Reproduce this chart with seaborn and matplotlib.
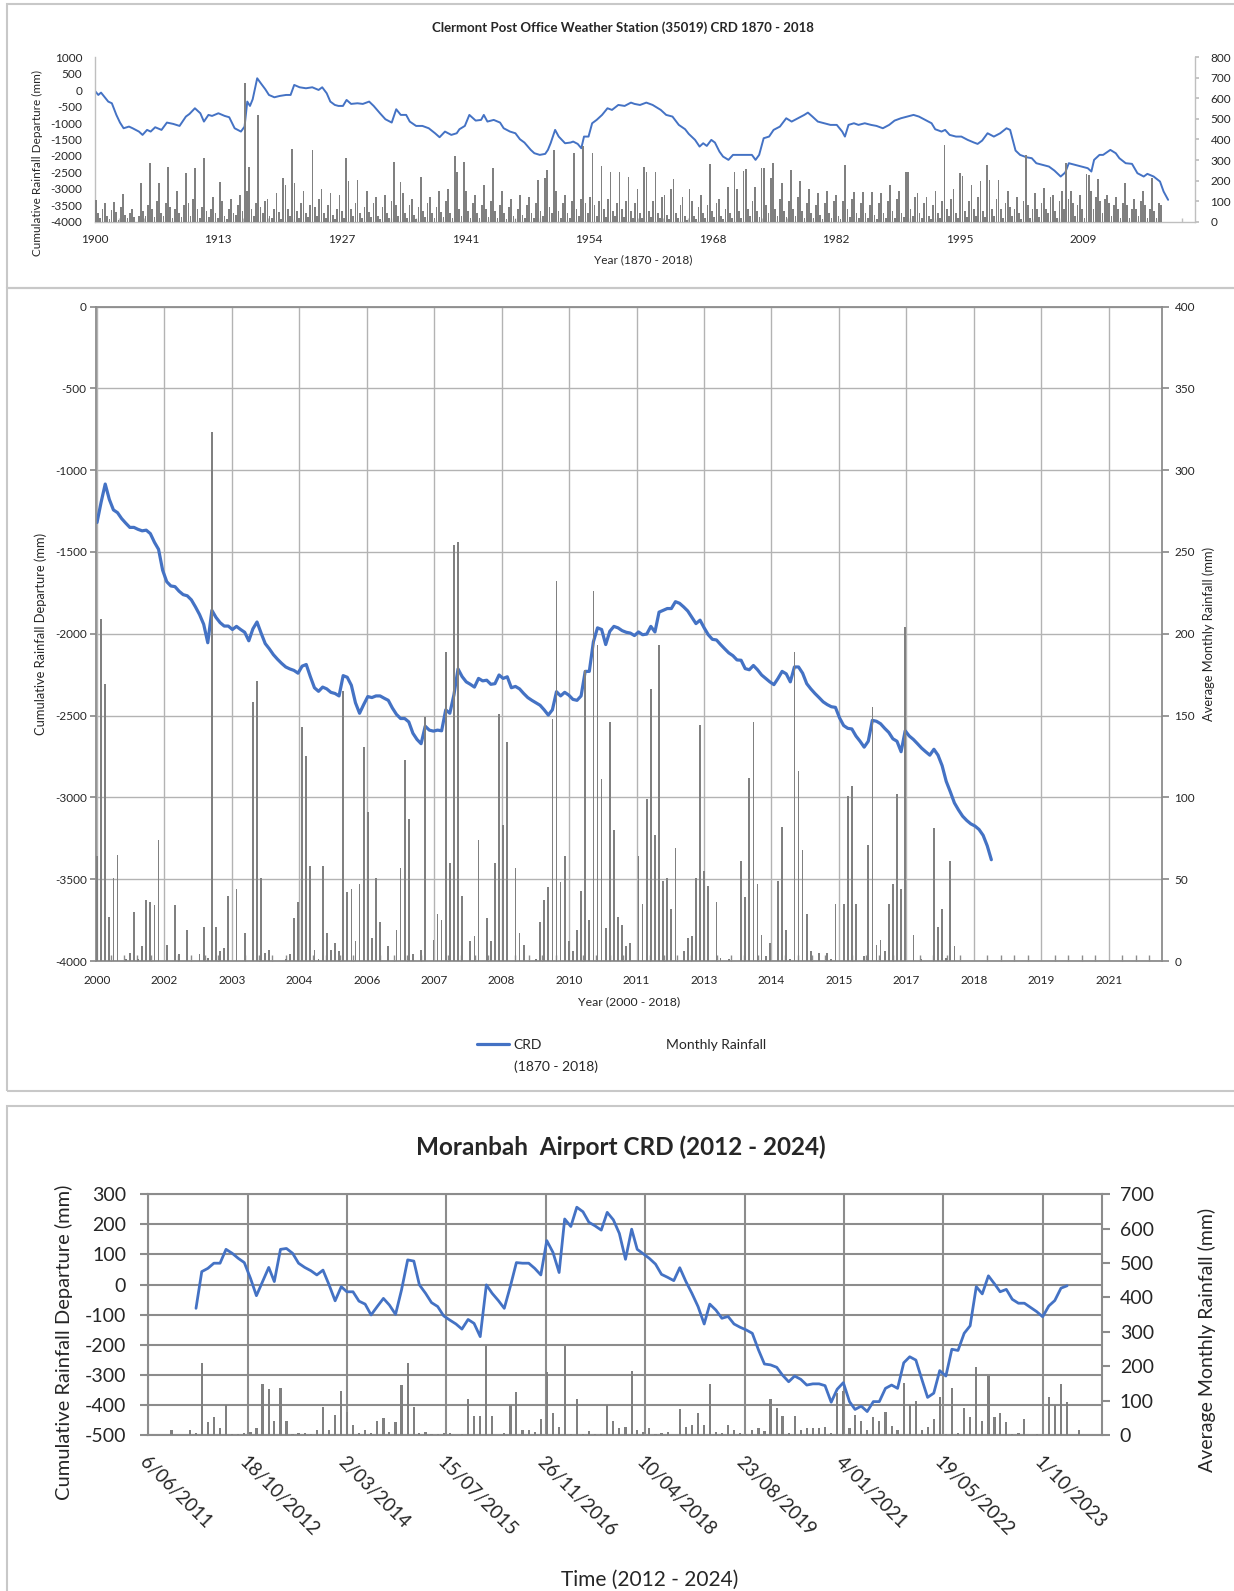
import numpy as np
import pandas as pd
import matplotlib
matplotlib.use('Agg')
import matplotlib.pyplot as plt
from matplotlib.lines import Line2D
from matplotlib.patches import Patch, Rectangle
from matplotlib.ticker import FixedLocator
import seaborn as sns

sns.set_theme(style='white')
plt.rcParams['font.family'] = ['Lato', 'DejaVu Sans']
plt.rcParams['axes.unicode_minus'] = False

BLUE = '#4472C4'
GREY = '#808080'
TXT = '#262626'

# -------------------------------
# Clermont 1900 - 2018 (top chart)
# -------------------------------
top_years = [
    1900.0, 1900.4, 1900.7, 1901.2, 1901.5, 1901.9, 1902.4, 1902.8, 1903.2, 1903.8,
    1904.2, 1904.9, 1905.3, 1905.8, 1906.2, 1906.7, 1907.4, 1908.0, 1908.7, 1909.4,
    1910.1, 1910.5, 1911.1, 1911.7, 1912.1, 1912.6, 1913.0, 1913.7, 1914.4, 1914.9,
    1915.5, 1916.2, 1916.6, 1916.9, 1917.2, 1917.5, 1918.0, 1918.4, 1918.9, 1919.3,
    1919.9, 1920.5, 1921.2, 1921.7, 1922.1, 1922.7, 1923.4, 1924.1, 1924.8, 1925.2,
    1925.7, 1926.1, 1926.6, 1927.0, 1927.5, 1927.9, 1928.4, 1929.1, 1929.7, 1930.4,
    1930.9, 1931.6, 1932.2, 1932.9, 1933.4, 1933.9, 1934.5, 1934.9, 1935.6, 1936.3,
    1937.0, 1937.7, 1938.2, 1938.8, 1939.5, 1940.1, 1940.4, 1941.0, 1941.5, 1942.2,
    1942.8, 1943.1, 1943.5, 1944.2, 1944.9, 1945.3, 1946.0, 1946.6, 1947.1, 1947.6,
    1948.3, 1948.7, 1949.3, 1949.9, 1950.2, 1950.5, 1951.0, 1951.4, 1952.1, 1952.7,
    1953.0, 1953.5, 1953.9, 1954.2, 1954.7, 1955.1, 1955.6, 1956.2, 1956.8, 1957.3,
    1958.0, 1958.7, 1959.4, 1959.8, 1960.4, 1961.1, 1961.8, 1962.7, 1963.3, 1964.0,
    1964.7, 1965.4, 1965.8, 1966.5, 1967.0, 1967.4, 1967.8, 1968.3, 1968.7, 1969.2,
    1969.6, 1970.2, 1970.7, 1971.4, 1972.1, 1972.8, 1973.2, 1973.6, 1974.1, 1974.7,
    1975.2, 1975.9, 1976.6, 1977.2, 1977.9, 1978.6, 1979.0, 1979.5, 1980.1, 1980.8,
    1981.5, 1982.2, 1982.8, 1983.1, 1983.5, 1984.1, 1984.6, 1985.3, 1986.0, 1986.6,
    1987.3, 1988.0, 1988.6, 1989.3, 1990.0, 1990.7, 1991.3, 1992.0, 1992.7, 1993.1,
    1993.8, 1994.2, 1994.7, 1995.4, 1996.0, 1996.7, 1997.4, 1997.8, 1998.3, 1998.9,
    1999.6, 2000.3, 2001.0, 2001.4, 2002.0, 2002.5, 2003.2, 2003.8, 2004.3, 2005.0,
    2005.7, 2006.3, 2007.0, 2007.5, 2007.9, 2008.6, 2009.3, 2010.0, 2010.4, 2010.7,
    2011.3, 2011.7, 2012.5, 2013.1, 2013.5, 2014.2, 2014.9, 2015.5, 2016.2, 2016.6,
    2017.3, 2018.0, 2018.4, 2018.9,
]
top_crd = [
    -13, -145, -74, -246, -347, -398, -752, -985, -1158, -1107,
    -1158, -1259, -1360, -1208, -1259, -1127, -1208, -985, -1026, -1087,
    -803, -722, -550, -702, -955, -752, -783, -702, -783, -823,
    -1158, -1259, -1107, -347, -479, -276, 362, 210, 27, -145,
    -216, -175, -145, -145, 159, 88, 58, 88, 7, 88,
    -94, -347, -449, -479, -479, -297, -418, -398, -418, -347,
    -479, -702, -884, -985, -580, -752, -752, -955, -1087, -1087,
    -1158, -1310, -1431, -1259, -1360, -1310, -1188, -1087, -752, -925,
    -904, -752, -955, -904, -985, -1158, -1259, -1310, -1492, -1593,
    -1816, -1917, -1968, -1937, -1816, -1614, -1208, -1411, -1614, -1593,
    -1563, -1634, -1766, -1411, -1411, -1006, -904, -752, -550, -600,
    -449, -479, -378, -418, -450, -378, -449, -600, -752, -803,
    -1056, -1188, -1330, -1512, -1715, -1614, -1695, -1512, -1593, -1867,
    -2019, -2120, -1968, -1968, -1968, -1968, -2120, -1968, -1462, -1411,
    -1208, -1107, -854, -955, -854, -752, -682, -803, -955, -1006,
    -1056, -1056, -1259, -1411, -1056, -1006, -1056, -1006, -1056, -1087,
    -1158, -1056, -925, -854, -803, -752, -803, -904, -1006, -1188,
    -1259, -1208, -1360, -1411, -1411, -1512, -1593, -1634, -1533, -1310,
    -1411, -1310, -1158, -1208, -1836, -1968, -2039, -2069, -2221, -2272,
    -2323, -2444, -2626, -2505, -2221, -2272, -2323, -2373, -2474, -2120,
    -1968, -1968, -1816, -1917, -2069, -2221, -2241, -2525, -2626, -2545,
    -2626, -2778, -3082, -3335,
]
# rainfall, four values per year (Jan-Mar, Apr-Jun, Jul-Sep, Oct-Dec) from 1900
top_rain = [
    105, 40, 20, 60,   90, 30, 15, 55,   94, 45, 10, 70,   133, 35, 20, 40,
    60, 25, 0, 30,     187, 50, 30, 80,  284, 60, 25, 100, 187, 40, 30, 90,
    268, 70, 20, 60,   150, 40, 25, 80,  235, 90, 30, 110, 260, 60, 20, 70,
    308, 50, 25, 60,   120, 40, 20, 195, 100, 30, 15, 60,  110, 40, 35, 80,
    130, 50, 677, 150, 268, 60, 30, 90,  519, 70, 40, 100, 110, 30, 20, 60,
    140, 45, 15, 211,  180, 60, 30, 352, 187, 50, 20, 90,  150, 40, 25, 80,
    349, 70, 30, 110,  160, 40, 20, 80,  140, 35, 15, 60,  130, 50, 20, 308,
    200, 60, 30, 90,   203, 40, 20, 70,  150, 45, 25, 90,  120, 30, 15, 70,
    130, 40, 20, 100,  292, 80, 30, 195, 140, 40, 20, 80,  110, 35, 15, 70,
    219, 50, 25, 90,   120, 40, 20, 70,  150, 45, 25, 100, 160, 40, 20, 321,
    244, 60, 30, 292,  150, 50, 20, 90,  130, 40, 20, 80,  180, 60, 25, 100,
    260, 50, 20, 80,   150, 40, 15, 70,  110, 30, 15, 60,  130, 35, 20, 80,
    120, 40, 20, 90,   203, 50, 30, 211, 252, 70, 40, 349, 150, 50, 20, 90,
    130, 40, 20, 100,  333, 60, 30, 110, 370, 90, 40, 120, 333, 80, 30, 100,
    271, 60, 25, 110,  244, 50, 30, 90,  244, 60, 25, 100, 219, 50, 20, 90,
    160, 40, 20, 268,  244, 50, 25, 100, 244, 40, 20, 120, 130, 35, 15, 160,
    206, 40, 20, 80,   120, 30, 10, 160, 100, 30, 15, 70,  130, 40, 20, 80,
    281, 50, 25, 90,   110, 30, 15, 60,  170, 40, 20, 244, 160, 50, 20, 247,
    255, 60, 30, 100,  170, 50, 25, 263, 263, 80, 40, 214, 284, 60, 30, 110,
    190, 50, 25, 100,  252, 60, 30, 120, 200, 50, 20, 90,  160, 40, 20, 80,
    140, 35, 15, 90,   150, 40, 20, 100, 130, 30, 15, 100, 276, 60, 25, 110,
    145, 40, 20, 90,   145, 40, 20, 80,  145, 35, 15, 90,  140, 40, 20, 100,
    180, 50, 20, 110,  150, 40, 25, 244, 244, 60, 30, 120, 140, 40, 20, 90,
    120, 30, 15, 80,   150, 40, 20, 100, 373, 60, 30, 110, 160, 40, 20, 235,
    222, 50, 25, 100,  180, 60, 30, 120, 200, 50, 25, 276, 203, 60, 30, 110,
    203, 60, 20, 90,   150, 70, 30, 60,  120, 40, 15, 100, 325, 80, 20, 60,
    140, 60, 25, 90,   165, 60, 40, 120, 130, 50, 20, 100, 150, 60, 284, 110,
    150, 90, 30, 80,   130, 60, 20, 232, 227, 150, 60, 120, 206, 100, 40, 110,
    130, 90, 30, 80,   120, 60, 20, 90,  190, 80, 20, 60,  110, 60, 30, 100,
    150, 80, 20, 60,   211, 50, 20, 90,  81, 0,
]
top_tick_labels = ['1900', '1913', '1927', '1941', '1954', '1968', '1982', '1995', '2009']

# -------------------------------
# Clermont 2000 - 2018 (middle chart), monthly
# -------------------------------
mid_crd = [
    -1320, -1196, -1085, -1179, -1243, -1260, -1296, -1324, -1350, -1350,
    -1362, -1371, -1367, -1388, -1441, -1484, -1612, -1682, -1708, -1712,
    -1740, -1761, -1768, -1793, -1836, -1883, -1942, -2055, -1857, -1900,
    -1932, -1953, -1953, -1974, -1955, -1974, -1991, -2043, -1970, -1928,
    -1996, -2060, -2092, -2128, -2156, -2181, -2203, -2215, -2224, -2241,
    -2198, -2188, -2262, -2330, -2352, -2326, -2337, -2358, -2365, -2380,
    -2256, -2266, -2315, -2422, -2486, -2433, -2384, -2390, -2380, -2380,
    -2394, -2407, -2454, -2493, -2518, -2518, -2539, -2608, -2646, -2672,
    -2565, -2589, -2595, -2589, -2593, -2465, -2486, -2373, -2215, -2262,
    -2294, -2309, -2326, -2273, -2288, -2284, -2309, -2305, -2252, -2273,
    -2263, -2330, -2322, -2337, -2365, -2390, -2407, -2422, -2437, -2465,
    -2497, -2465, -2354, -2380, -2358, -2375, -2401, -2407, -2380, -2230,
    -2230, -2049, -1964, -1974, -2066, -1985, -1955, -1964, -1981, -1991,
    -1996, -2011, -1989, -2006, -2002, -1955, -1989, -1868, -1857, -1846,
    -1846, -1804, -1814, -1836, -1861, -1900, -1938, -1917, -1964, -2006,
    -2034, -2038, -2066, -2092, -2117, -2134, -2160, -2162, -2213, -2220,
    -2194, -2220, -2252, -2273, -2294, -2311, -2273, -2230, -2245, -2294,
    -2203, -2203, -2241, -2305, -2337, -2365, -2390, -2416, -2433, -2446,
    -2450, -2514, -2561, -2578, -2582, -2625, -2657, -2693, -2657, -2529,
    -2535, -2550, -2578, -2603, -2642, -2657, -2721, -2593, -2625, -2646,
    -2672, -2699, -2721, -2742, -2706, -2742, -2806, -2902, -2966, -3034,
    -3077, -3115, -3141, -3162, -3175, -3196, -3232, -3296, -3381,
]
mid_rain = [
    64, 209, 169, 27, 51, 65, 0, 1, 5, 30, 1, 9,
    37, 36, 34, 74, 0, 10, 0, 34, 4, 0, 19, 0,
    0, 4, 21, 2, 323, 21, 6, 8, 40, 0, 44, 0,
    17, 0, 158, 171, 51, 5, 7, 0, 0, 0, 1, 4,
    26, 36, 143, 125, 58, 7, 1, 58, 17, 7, 11, 6,
    165, 42, 44, 12, 47, 131, 91, 14, 51, 24, 0, 9,
    0, 19, 57, 123, 87, 4, 0, 7, 149, 0, 13, 29,
    25, 189, 60, 254, 256, 40, 0, 12, 15, 74, 0, 26,
    12, 60, 151, 83, 134, 0, 57, 17, 10, 0, 0, 1,
    24, 37, 45, 148, 232, 48, 64, 12, 6, 19, 43, 178,
    25, 226, 193, 111, 20, 146, 80, 27, 22, 9, 11, 0,
    64, 35, 99, 166, 77, 193, 49, 51, 32, 69, 0, 6,
    14, 15, 51, 144, 55, 46, 0, 36, 2, 0, 1, 0,
    0, 61, 39, 112, 146, 47, 16, 3, 11, 0, 49, 82,
    19, 1, 189, 116, 68, 29, 6, 0, 5, 0, 5, 1,
    35, 0, 35, 101, 107, 35, 0, 3, 71, 155, 10, 13,
    6, 35, 47, 102, 44, 204, 0, 16, 0, 1, 0, 0,
    81, 21, 32, 2, 61, 9, 0, 0,
]
mid_tick_labels = ['2000', '2002', '2003', '2004', '2006', '2007', '2008', '2010',
                   '2011', '2013', '2014', '2015', '2017', '2018', '2019', '2021']

# -------------------------------
# Moranbah Airport (bottom chart), monthly
# -------------------------------
mor_crd_start = '2012-02-01'
mor_crd = [
    -79, 43, 54, 71, 71, 117, 104, 87, 73, 21,
    -37, 10, 57, 10, 117, 120, 104, 71, 57, 46,
    32, 48, 0, -54, -7, -24, -24, -55, -65, -101,
    -73, -46, -68, -99, -18, 82, 78, -1, -29, -60,
    -73, -104, -118, -131, -148, -116, -129, -173, -1, -29,
    -53, -79, -5, 73, 71, 71, 54, 32, 146, 107,
    40, 218, 193, 257, 242, 207, 195, 181, 240, 215,
    170, 84, 184, 117, 102, 87, 68, 34, 24, 13,
    56, 10, -29, -73, -131, -65, -85, -112, -106, -131,
    -142, -151, -162, -217, -264, -267, -275, -301, -323, -304,
    -315, -334, -330, -330, -336, -391, -348, -326, -389, -415,
    -404, -422, -389, -389, -345, -334, -345, -260, -240, -251,
    -317, -375, -361, -286, -304, -215, -219, -162, -137, -7,
    -31, 29, 2, -24, -16, -49, -62, -62, -76, -90,
    -107, -71, -53, -12, -4,
]
mor_rain_start = '2011-09-01'
mor_rain = [
    0, 15, 0, 0,
    15, 7, 208, 37, 51, 19, 86, 3, 3, 7, 10, 19,
    148, 134, 42, 138, 42, 3, 7, 5, 3, 15, 80, 15,
    58, 129, 66, 29, 7, 15, 5, 42, 48, 10, 37, 145,
    208, 80, 7, 10, 3, 3, 7, 7, 0, 3, 105, 55,
    55, 260, 55, 0, 7, 87, 126, 15, 15, 10, 46, 182,
    63, 22, 260, 3, 104, 3, 13, 3, 3, 87, 42, 19,
    22, 187, 15, 10, 19, 3, 5, 10, 0, 75, 22, 29,
    63, 29, 148, 10, 7, 29, 15, 7, 3, 15, 19, 13,
    104, 78, 55, 5, 55, 15, 19, 19, 19, 22, 5, 121,
    129, 19, 58, 42, 15, 51, 42, 66, 26, 15, 152, 87,
    100, 15, 22, 46, 111, 3, 138, 7, 78, 51, 197, 42,
    173, 51, 63, 37, 3, 7, 46, 0, 3, 0, 111, 87,
    148, 97, 0, 15,
]
mor_tick_labels = ['6/06/2011', '18/10/2012', '2/03/2014', '15/07/2015', '26/11/2016',
                   '10/04/2018', '23/08/2019', '4/01/2021', '19/05/2022', '1/10/2023']

# -------------------------------
# Figure
# -------------------------------
W, H = 1234, 1591
fig = plt.figure(figsize=(W / 100, H / 100), dpi=100)


def px_axes(l, t, r, b):
    return fig.add_axes([l / W, 1 - b / H, (r - l) / W, (b - t) / H])


def style_spines(ax, show, color, lw):
    for name, sp in ax.spines.items():
        sp.set_visible(name in show)
        sp.set_color(color)
        sp.set_linewidth(lw)


# chart borders
for (t, b) in [(4, 288), (288, 1091), (1106, 1600)]:
    fig.add_artist(Rectangle((7 / W, 1 - b / H), (1240 - 7) / W, (b - t) / H,
                             transform=fig.transFigure, fill=False,
                             edgecolor='#c8c8c8', linewidth=1.5))

# ---------- top chart ----------
ax1 = px_axes(94.7, 57.3, 1195.2, 221.7)
ax1r = ax1.twinx()
sns.lineplot(x=top_years, y=top_crd, ax=ax1, color=BLUE, linewidth=1.4, estimator=None)
q_pos = 1900 + np.arange(len(top_rain)) * 0.25 + 0.125
ax1r.bar(q_pos, top_rain, width=0.19, color=GREY, linewidth=0)

step = 5000 / 365.25
ax1.set_xlim(1900, 2021.9)
ax1.set_xticks(1900 + step * np.arange(len(top_tick_labels)))
ax1.set_xticklabels(top_tick_labels)
ax1.xaxis.set_minor_locator(FixedLocator(1900 + step / 5 * np.arange(45)))
ax1.set_ylim(-4000, 1000)
ax1.set_yticks(range(-4000, 1001, 500))
ax1r.set_ylim(0, 800)
ax1r.set_yticks(range(0, 801, 100))
style_spines(ax1, ['left', 'bottom'], '#bfbfbf', 1.0)
style_spines(ax1r, ['right'], '#bfbfbf', 1.0)
ax1.tick_params(axis='y', length=0, pad=9, labelsize=8.5, labelcolor=TXT)
ax1.tick_params(axis='x', which='major', length=0, pad=9, labelsize=8.5, labelcolor=TXT)
ax1.tick_params(axis='x', which='minor', direction='in', length=3, color='#bfbfbf', bottom=True)
ax1r.tick_params(axis='y', length=3, color='#bfbfbf', pad=8, labelsize=8.5, labelcolor=TXT)
ax1.set_ylabel('Cumulative Rainfall Departure (mm)', fontsize=8.5, color=TXT)
ax1.yaxis.set_label_coords(-0.047, 0.36)
ax1.set_xlabel('Year (1870 - 2018)', fontsize=8.5, color=TXT)
ax1.xaxis.set_label_coords(0.498, -0.2)
fig.text(0.505, 1 - 27.4 / H, 'Clermont Post Office Weather Station (35019) CRD 1870 - 2018',
         ha='center', va='center', fontsize=9.5, fontweight='bold', color=TXT)

# ---------- middle chart ----------
ax2 = px_axes(96.4, 306.5, 1162, 961)
ax2r = ax2.twinx()
per_label = 16.44
ax2.set_xlim(-0.15, 259.6)
ax2.set_xticks(per_label * np.arange(len(mid_tick_labels)))
ax2.set_xticklabels(mid_tick_labels)
ax2.xaxis.set_minor_locator(FixedLocator(per_label / 5 * np.arange(79)))
ax2.set_ylim(-4000, 0)
ax2.set_yticks(range(-4000, 1, 500))
ax2r.set_ylim(0, 400)
ax2r.set_yticks(range(0, 401, 50))
ax2.grid(True, color='#b3b3b3', linewidth=1.0)
sns.lineplot(x=np.arange(len(mid_crd)), y=mid_crd, ax=ax2, color=BLUE, linewidth=2.3,
             estimator=None)
ax2r.bar(np.arange(len(mid_rain)), mid_rain, width=0.42, color=GREY, linewidth=0)
style_spines(ax2, ['left', 'bottom', 'top'], '#8c8c8c', 1.3)
style_spines(ax2r, ['right'], '#8c8c8c', 1.3)
ax2.tick_params(axis='y', length=4, color='#8c8c8c', pad=3, labelsize=8.5, labelcolor=TXT,
                left=True)
ax2.tick_params(axis='x', which='major', length=0, pad=10, labelsize=8.5, labelcolor=TXT)
ax2.tick_params(axis='x', which='minor', direction='in', length=4, color='#8c8c8c',
                bottom=True)
ax2r.tick_params(axis='y', length=5, color='#8c8c8c', pad=4, labelsize=8.5, labelcolor=TXT)
ax2.set_ylabel('Cumulative Rainfall Departure (mm)', fontsize=9.3, color=TXT)
ax2.yaxis.set_label_coords(-0.046, 0.5)
ax2r.set_ylabel('Average Monthly Rainfall (mm)', fontsize=9.3, color=TXT)
ax2r.yaxis.set_label_coords(1.038, 0.5)
ax2.set_xlabel('Year (2000 - 2018)', fontsize=8.8, color=TXT)
ax2.xaxis.set_label_coords(0.5, -0.054)

fs_leg = 10
fig.legend(handles=[Line2D([], [], color=BLUE, linewidth=2.3),
                    Patch(facecolor='none', edgecolor='none')],
           labels=['CRD', 'Monthly Rainfall'], ncol=2, frameon=False,
           loc='center left', bbox_to_anchor=(477 / W, 1 - 1045 / H),
           borderpad=0, borderaxespad=0, handlelength=2.3, handletextpad=0.3,
           columnspacing=6.4, prop={'size': fs_leg})
fig.text(513.5 / W, 1 - 1067 / H, '(1870 - 2018)', fontsize=fs_leg, color=TXT,
         ha='left', va='center')

# ---------- bottom chart ----------
ax3 = px_axes(148.3, 1194.3, 1101.7, 1435)
ax3r = ax3.twinx()
crd_dates = pd.date_range(mor_crd_start, periods=len(mor_crd), freq='MS')
rain_dates = pd.date_range(mor_rain_start, periods=len(mor_rain), freq='MS')
tick_dates = pd.to_datetime(mor_tick_labels, format='%d/%m/%Y')

ax3.grid(True, color='#8c8c8c', linewidth=1.5)
sns.lineplot(x=crd_dates, y=mor_crd, ax=ax3, color=BLUE, linewidth=2.0, estimator=None)
ax3r.bar(rain_dates, mor_rain, width=11, color=GREY, linewidth=0)
ax3.set_xlim(pd.Timestamp('2011-06-06'), pd.Timestamp('2024-07-24'))
ax3.set_xticks(tick_dates)
ax3.set_xticklabels(mor_tick_labels)
plt.setp(ax3.get_xticklabels(), rotation=-45, ha='left', va='top', rotation_mode='anchor')
ax3.set_ylim(-500, 300)
ax3.set_yticks(range(-500, 301, 100))
ax3r.set_ylim(0, 700)
ax3r.set_yticks(range(0, 701, 100))
style_spines(ax3, ['left', 'bottom', 'top'], '#8c8c8c', 1.5)
style_spines(ax3r, ['right'], '#8c8c8c', 1.5)
ax3.tick_params(axis='y', length=6, width=1.5, color='#8c8c8c', pad=10, labelsize=14,
                labelcolor=TXT, left=True)
ax3.tick_params(axis='x', length=0, pad=13, labelsize=13.5, labelcolor=TXT)
ax3r.tick_params(axis='y', length=6, width=1.5, color='#8c8c8c', pad=7, labelsize=14,
                 labelcolor=TXT)
ax3.set_ylabel('Cumulative Rainfall Departure (mm)', fontsize=14.5, color=TXT)
ax3.yaxis.set_label_coords(-0.079, 0.386)
ax3r.set_ylabel('Average Monthly Rainfall (mm)', fontsize=14, color=TXT)
ax3r.yaxis.set_label_coords(1.101, 0.397)
ax3.set_xlabel('Time (2012 - 2024)', fontsize=15, color=TXT)
ax3.xaxis.set_label_coords(0.526, -0.561)
fig.text(0.503, 1 - 1147 / H, 'Moranbah  Airport CRD (2012 - 2024)', ha='center',
         va='center', fontsize=17.5, fontweight='bold', color=TXT)

fig.savefig('out.png', dpi=100, facecolor='white')
